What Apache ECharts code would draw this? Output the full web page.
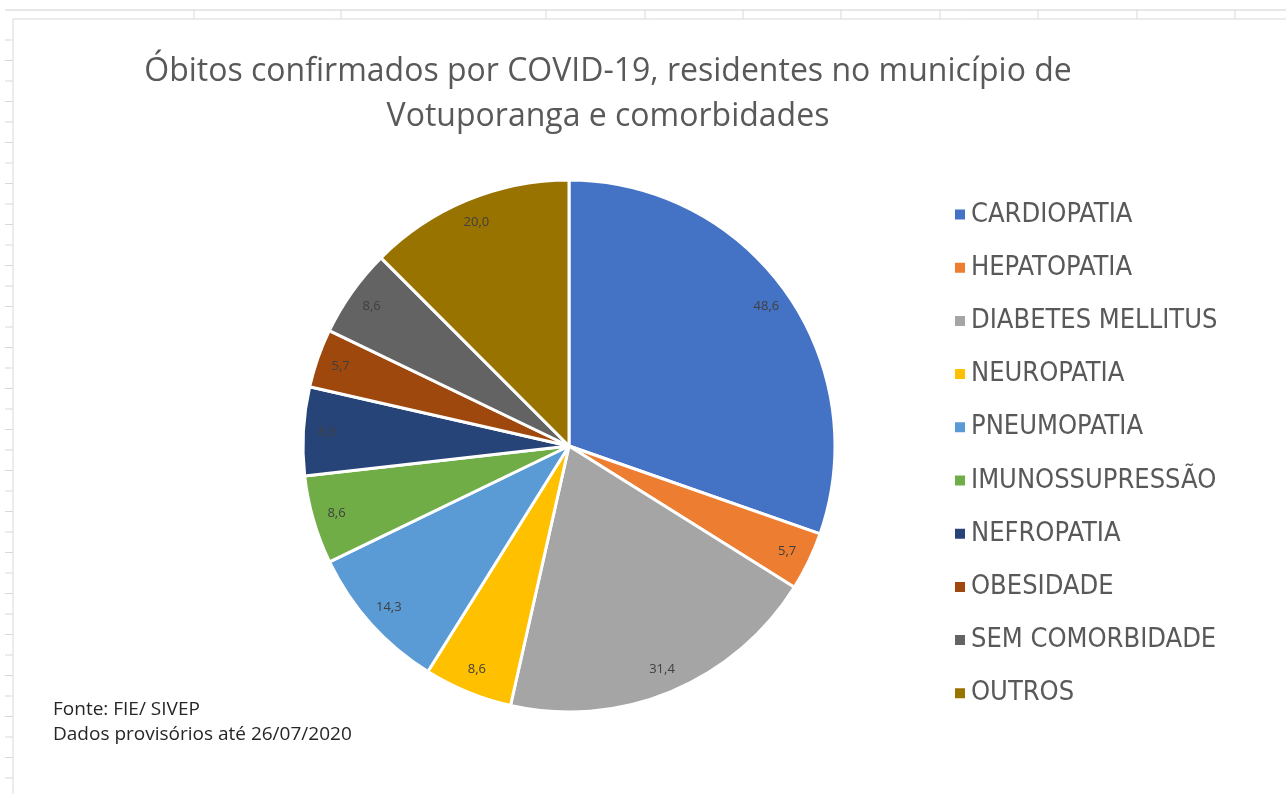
<!DOCTYPE html>
<html>
<head>
<meta charset="utf-8">
<script src="https://cdn.jsdelivr.net/npm/echarts@6/dist/echarts.min.js"></script>
<style>
  html, body { margin: 0; padding: 0; background: #fff; }
  #chart { width: 1286px; height: 794px; }
</style>
</head>
<body>
<div id="chart"></div>
<script>
// categorias e valores (%)
var categorias = ['CARDIOPATIA', 'HEPATOPATIA', 'DIABETES MELLITUS', 'NEUROPATIA', 'PNEUMOPATIA',
  'IMUNOSSUPRESSÃO', 'NEFROPATIA', 'OBESIDADE', 'SEM COMORBIDADE', 'OUTROS'];
var valores = [48.6, 5.7, 31.4, 8.6, 14.3, 8.6, 8.6, 5.7, 8.6, 20.0];
var cores = ['#4472C4', '#ED7D31', '#A5A5A5', '#FFC000', '#5B9BD5',
  '#70AD47', '#264478', '#9E480E', '#636363', '#997300'];

var chart = echarts.init(document.getElementById('chart'));

var dados = categorias.map(function (c, i) {
  return { name: c, value: valores[i], itemStyle: { color: cores[i] } };
});
// anel transparente só para posicionar os rótulos perto da borda
var dadosRotulo = categorias.map(function (c, i) {
  return { name: c, value: valores[i], itemStyle: { color: 'rgba(0,0,0,0)' } };
});

// linhas da planilha ao fundo
var grade = [];
[194, 341, 546, 645, 743, 841, 940, 1038, 1137, 1235].forEach(function (x) {
  grade.push({ type: 'line', shape: { x1: x, y1: 10, x2: x, y2: 19 }, style: { stroke: '#d9d9d9', lineWidth: 1 }, silent: true });
});
for (var y = 40; y < 794; y += 20.5) {
  grade.push({ type: 'line', shape: { x1: 5, y1: y, x2: 13, y2: y }, style: { stroke: '#d9d9d9', lineWidth: 1 }, silent: true });
}
grade.push({ type: 'line', shape: { x1: 5, y1: 10, x2: 1286, y2: 10 }, style: { stroke: '#d0d0d0', lineWidth: 1 }, silent: true });
grade.push({ type: 'line', shape: { x1: 13, y1: 19, x2: 1286, y2: 19 }, style: { stroke: '#d9d9d9', lineWidth: 1 }, silent: true });
grade.push({ type: 'line', shape: { x1: 13, y1: 19, x2: 13, y2: 794 }, style: { stroke: '#d9d9d9', lineWidth: 1 }, silent: true });
// fonte
grade.push({
  type: 'text', left: 53, top: 697,
  style: { text: 'Fonte: FIE/ SIVEP\nDados provisórios até 26/07/2020', fontFamily: 'Open Sans', fontSize: 19, lineHeight: 25, fill: '#262626' }
});

chart.setOption({
  backgroundColor: '#fff',
  animation: false,
  title: {
    text: 'Óbitos confirmados por COVID-19, residentes no município de\nVotuporanga e comorbidades',
    left: 603, top: 44, textAlign: 'center',
    textStyle: { fontFamily: 'Open Sans', fontSize: 32, fontWeight: 'normal', color: '#595959', lineHeight: 45 }
  },
  legend: {
    data: categorias,
    orient: 'vertical',
    left: 948, top: 196,
    itemWidth: 12, itemHeight: 12, itemGap: 26.2,
    icon: 'rect',
    textStyle: { fontFamily: 'Liberation Sans Narrow, DejaVu Sans Condensed, sans-serif', fontSize: 27, color: '#595959' }
  },
  graphic: grade,
  series: [
    {
      type: 'pie',
      center: [569, 446], radius: 266,
      startAngle: 90, clockwise: true,
      label: { show: false }, labelLine: { show: false },
      itemStyle: { borderColor: '#fff', borderWidth: 3 },
      data: dados
    },
    {
      type: 'pie', silent: true,
      center: [569, 446], radius: [212, 266],
      startAngle: 90, clockwise: true,
      legendHoverLink: false,
      label: {
        show: true, position: 'inside', fontFamily: 'Open Sans', fontSize: 13, color: '#404040',
        formatter: function (p) { return p.value.toFixed(1).replace('.', ','); }
      },
      labelLine: { show: false },
      data: dadosRotulo
    }
  ]
});
</script>
</body>
</html>
